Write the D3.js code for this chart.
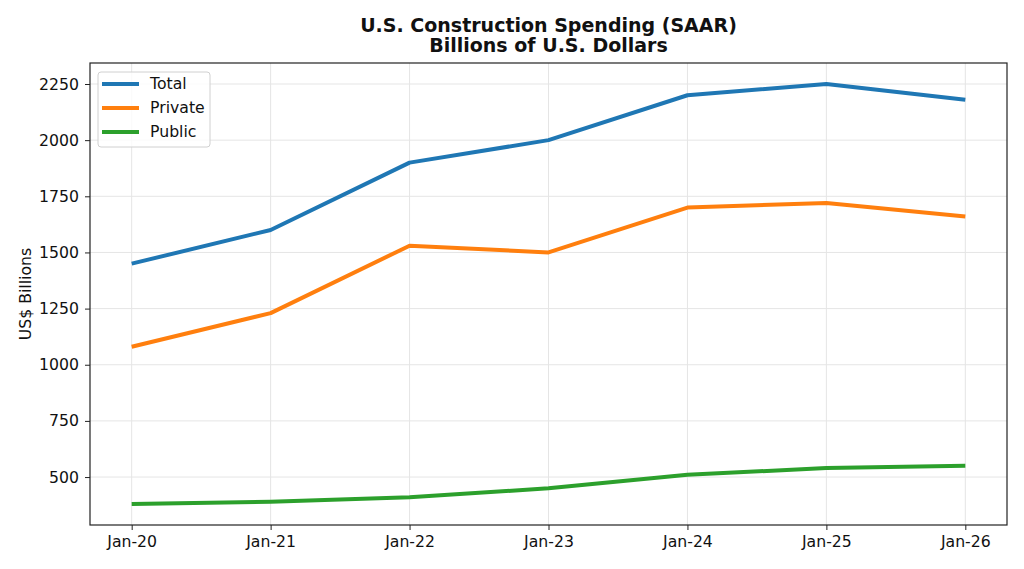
<!doctype html>
<html>
<head>
<meta charset="utf-8">
<script src="https://cdn.jsdelivr.net/npm/d3@7"></script>
<style>
  body { margin: 0; background: #fff; }
  text { font-family: "DejaVu Sans", sans-serif; fill: #111; }
</style>
</head>
<body>
<script>
  // chart data
  var periods = ["Jan-20", "Jan-21", "Jan-22", "Jan-23", "Jan-24", "Jan-25", "Jan-26"];
  var total   = [1450, 1600, 1900, 2000, 2200, 2250, 2180];
  var privat  = [1080, 1230, 1530, 1500, 1700, 1720, 1660];
  var pub     = [380, 390, 410, 450, 510, 540, 550];
  var yTicks  = [500, 750, 1000, 1250, 1500, 1750, 2000, 2250];

  var series = [
    { name: "Total",   values: total,  color: "#1f77b4" },
    { name: "Private", values: privat, color: "#ff7f0e" },
    { name: "Public",  values: pub,    color: "#2ca02c" }
  ];

  var W = 1024, H = 569;
  var m = { left: 90, right: 17, top: 63, bottom: 44 };
  var iw = W - m.left - m.right, ih = H - m.top - m.bottom;
  var fs = "15.7px";

  var svg = d3.select("body").append("svg")
    .attr("width", W).attr("height", H);

  // matplotlib style 5% margins
  var all = total.concat(privat, pub);
  var lo = d3.min(all), hi = d3.max(all), pad = (hi - lo) * 0.05;

  var x = d3.scalePoint().domain(periods).range([0, iw]).padding(0.3);
  var y = d3.scaleLinear().domain([lo - pad, hi + pad]).range([ih, 0]);

  var g = svg.append("g").attr("transform", "translate(" + m.left + "," + m.top + ")");

  // grid
  g.append("g").selectAll("line").data(yTicks).enter().append("line")
    .attr("x1", 0).attr("x2", iw)
    .attr("y1", function(d){ return y(d); }).attr("y2", function(d){ return y(d); })
    .attr("stroke", "#e5e5e5").attr("stroke-width", 1);
  g.append("g").selectAll("line").data(periods).enter().append("line")
    .attr("y1", 0).attr("y2", ih)
    .attr("x1", function(d){ return x(d); }).attr("x2", function(d){ return x(d); })
    .attr("stroke", "#e5e5e5").attr("stroke-width", 1);

  // lines
  var line = d3.line()
    .x(function(d, i){ return x(periods[i]); })
    .y(function(d){ return y(d); });

  series.forEach(function(s){
    g.append("path")
      .datum(s.values)
      .attr("d", line)
      .attr("fill", "none")
      .attr("stroke", s.color)
      .attr("stroke-width", 4)
      .attr("stroke-linejoin", "round");
  });

  // axes
  var xAxis = g.append("g").attr("transform", "translate(0," + ih + ")")
    .call(d3.axisBottom(x).tickSize(5).tickPadding(6));
  var yAxis = g.append("g")
    .call(d3.axisLeft(y).tickValues(yTicks).tickSize(5).tickPadding(6).tickFormat(d3.format("d")));
  [xAxis, yAxis].forEach(function(a){
    a.select(".domain").remove();
    a.selectAll("line").attr("stroke", "#222");
    a.selectAll("text").style("font-size", fs).style("font-family", "DejaVu Sans").attr("fill", "#111");
  });

  // frame
  g.append("rect").attr("width", iw).attr("height", ih)
    .attr("fill", "none").attr("stroke", "#222").attr("stroke-width", 1.2);

  // title
  svg.append("text").attr("x", m.left + iw / 2).attr("y", 32)
    .attr("text-anchor", "middle").style("font-size", "19px").style("font-weight", "bold")
    .text("U.S. Construction Spending (SAAR)");
  svg.append("text").attr("x", m.left + iw / 2).attr("y", 52)
    .attr("text-anchor", "middle").style("font-size", "19px").style("font-weight", "bold")
    .text("Billions of U.S. Dollars");

  // y label
  svg.append("text")
    .attr("transform", "translate(31," + (m.top + ih / 2) + ") rotate(-90)")
    .attr("text-anchor", "middle").style("font-size", fs)
    .text("US$ Billions");

  // legend
  var leg = g.append("g").attr("transform", "translate(8,9)");
  leg.append("rect").attr("width", 112).attr("height", 75).attr("rx", 3)
    .attr("fill", "#fff").attr("fill-opacity", 0.8)
    .attr("stroke", "#d0d0d0").attr("stroke-width", 1);
  series.forEach(function(s, i){
    var cy = 12 + i * 24;
    leg.append("line").attr("x1", 4).attr("x2", 41).attr("y1", cy).attr("y2", cy)
      .attr("stroke", s.color).attr("stroke-width", 4);
    leg.append("text").attr("x", 52).attr("y", cy).attr("dy", "0.35em")
      .style("font-size", fs).text(s.name);
  });
</script>
</body>
</html>
